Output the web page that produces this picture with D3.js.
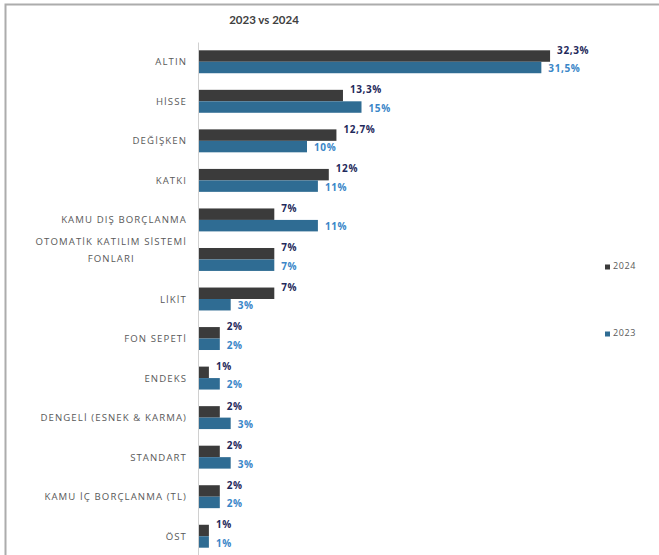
<!DOCTYPE html>
<html>
<head>
<meta charset="utf-8">
<script src="https://cdn.jsdelivr.net/npm/d3@7/dist/d3.min.js"></script>
<style>
  html, body { margin: 0; padding: 0; background: #fff; }
  svg { display: block; font-family: "Open Sans", Lato, sans-serif; }
</style>
</head>
<body>
<svg id="chart" width="659" height="555"></svg>
<script>
// Fund categories, top to bottom
const categories = [
  "ALTIN", "HİSSE", "DEĞİŞKEN", "KATKI", "KAMU DIŞ BORÇLANMA",
  "OTOMATİK KATILIM SİSTEMİ FONLARI", "LİKİT", "FON SEPETİ", "ENDEKS",
  "DENGELİ (ESNEK & KARMA)", "STANDART", "KAMU İÇ BORÇLANMA (TL)", "ÖST"
];
// Share (%) per category
const values2024 = [32.3, 13.3, 12.7, 12, 7, 7, 7, 2, 1, 2, 2, 2, 1];
const values2023 = [31.5, 15, 10, 11, 11, 7, 3, 2, 2, 3, 3, 2, 1];
const seriesNames = ["2024", "2023"];
const valueLabels2024 = ["32,3%", "13,3%", "12,7%", "12%", "7%", "7%", "7%", "2%", "1%", "2%", "2%", "2%", "1%"];
const valueLabels2023 = ["31,5%", "15%", "10%", "11%", "11%", "7%", "3%", "2%", "2%", "3%", "3%", "2%", "1%"];
const titleText = "2023 vs 2024";

const colors = { "2024": "#3b3b3b", "2023": "#2f6c93" };
const labelColors = { "2024": "#1f2a5c", "2023": "#3a86c8" };

const svg = d3.select("#chart");

// outer frame (only top and left edges fall inside the view)
svg.append("rect")
  .attr("x", 5.5).attr("y", 4.5)
  .attr("width", 700).attr("height", 600)
  .attr("fill", "none").attr("stroke", "#acacac").attr("stroke-width", 2);

svg.append("text")
  .attr("x", 264).attr("y", 24)
  .attr("text-anchor", "middle")
  .attr("font-family", "Lato, sans-serif")
  .attr("font-size", 11.5).attr("font-weight", 700)
  .attr("fill", "#404040")
  .text(titleText);

const x = d3.scaleLinear().domain([0, 35]).range([198, 579.5]);
const y = d3.scaleBand().domain(categories).range([42, 556])
  .paddingInner(0.42).paddingOuter(0.21);
const ySub = d3.scaleBand().domain(seriesNames).range([0, y.bandwidth()]);

const rows = categories.map((c, i) => ({
  cat: c,
  items: [
    { s: "2024", v: values2024[i], label: valueLabels2024[i] },
    { s: "2023", v: values2023[i], label: valueLabels2023[i] }
  ]
}));

const g = svg.append("g");
const groups = g.selectAll("g.row").data(rows).join("g")
  .attr("class", "row")
  .attr("transform", d => `translate(0,${y(d.cat)})`);

groups.selectAll("rect").data(d => d.items).join("rect")
  .attr("x", x(0))
  .attr("y", d => ySub(d.s))
  .attr("width", d => x(d.v) - x(0))
  .attr("height", ySub.bandwidth())
  .attr("fill", d => colors[d.s]);

groups.selectAll("text.val").data(d => d.items).join("text")
  .attr("class", "val")
  .attr("x", d => x(d.v) + 7)
  .attr("y", d => ySub(d.s) + ySub.bandwidth() / 2 + (d.s === "2024" ? -5 : 2))
  .attr("dominant-baseline", "middle")
  .attr("font-size", 10).attr("font-weight", 700)
  .attr("letter-spacing", 0.6)
  .attr("fill", d => labelColors[d.s])
  .text(d => d.label);

// category axis
const axis = g.append("g").attr("transform", `translate(${x(0)},0)`)
  .call(d3.axisLeft(y).tickSize(0).tickPadding(12).tickFormat(""));
axis.select(".domain").attr("stroke", "#d0d0d0");

const catFont = 9.6, catSpacing = 1.1;
const catLabels = g.append("g").selectAll("text.cat").data(categories).join("text")
  .attr("class", "cat")
  .attr("font-size", catFont).attr("letter-spacing", catSpacing)
  .attr("fill", "#595959")
  .attr("text-anchor", "end");

catLabels.each(function (c) {
  const t = d3.select(this);
  const cy = y(c) + y.bandwidth() / 2;
  if (c.length > 25) {
    const words = c.split(" ");
    const first = words.slice(0, -1).join(" ");
    const last = words[words.length - 1];
    t.attr("x", 187).attr("y", cy - 17).attr("dominant-baseline", "middle").text(first);
    const w = this.getComputedTextLength();
    g.append("text")
      .attr("x", 187 - w / 2).attr("y", cy)
      .attr("dominant-baseline", "middle")
      .attr("text-anchor", "middle")
      .attr("font-size", catFont).attr("letter-spacing", catSpacing)
      .attr("fill", "#595959")
      .text(last);
  } else {
    t.attr("x", 187).attr("y", cy + 1).attr("dominant-baseline", "middle").text(c);
  }
});

// legend
const legendY = { "2024": 267, "2023": 334 };
const leg = svg.append("g").selectAll("g").data(seriesNames).join("g")
  .attr("transform", d => `translate(605,${legendY[d]})`);
leg.append("rect").attr("x", 0).attr("y", -2.5).attr("width", 5).attr("height", 5)
  .attr("fill", d => colors[d]);
leg.append("text").attr("x", 8).attr("y", 0)
  .attr("dominant-baseline", "middle")
  .attr("font-size", 9).attr("letter-spacing", 0.6).attr("fill", "#595959")
  .text(d => d);
</script>
</body>
</html>
